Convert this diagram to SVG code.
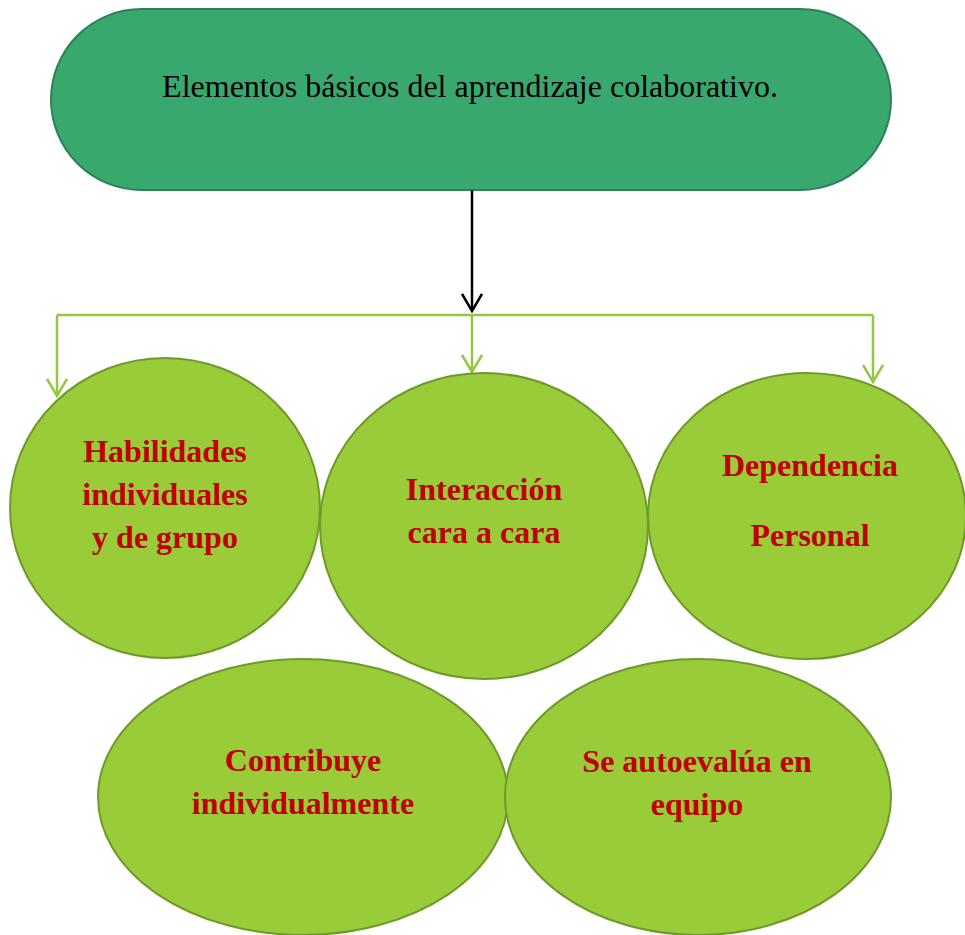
<svg xmlns="http://www.w3.org/2000/svg" width="965" height="935" viewBox="0 0 965 935">
<defs>
<style>
.title{font-family:"Liberation Serif","Times New Roman",serif;font-size:32px;fill:#000;text-anchor:middle}
.lbl{font-family:"Liberation Serif","Times New Roman",serif;font-size:32px;font-weight:bold;fill:#C00000;text-anchor:middle}
.node{fill:#9ACB38;stroke:#6D9A2A;stroke-width:2}
.gline{fill:none;stroke:#92C83E;stroke-width:2.5}
</style>
<marker id="ag" markerWidth="20" markerHeight="22" viewBox="0 0 20 22" refX="18" refY="11" orient="auto" markerUnits="userSpaceOnUse">
<path d="M1,1 L18,11 L1,21" fill="none" stroke="#92C83E" stroke-width="2.5"/>
</marker>
<marker id="ab" markerWidth="20" markerHeight="22" viewBox="0 0 20 22" refX="18" refY="11" orient="auto" markerUnits="userSpaceOnUse">
<path d="M1,1 L18,11 L1,21" fill="none" stroke="#000" stroke-width="2.5"/>
</marker>
</defs>
<rect width="965" height="935" fill="#fff"/>
<g id="top">
<rect x="51" y="9" width="840" height="181" rx="90.5" ry="90.5" fill="#38A86F" stroke="#2E8157" stroke-width="2"/>
<text class="title" x="470" y="97">Elementos básicos del aprendizaje colaborativo.</text>
</g>
<g id="connectors">
<line x1="472" y1="190" x2="472" y2="311" stroke="#000" stroke-width="2.5" marker-end="url(#ab)"/>
<line class="gline" x1="57" y1="315" x2="873" y2="315"/>
<line class="gline" x1="57" y1="315" x2="57" y2="396" marker-end="url(#ag)"/>
<line class="gline" x1="472" y1="315" x2="472" y2="372" marker-end="url(#ag)"/>
<line class="gline" x1="873" y1="315" x2="873" y2="382" marker-end="url(#ag)"/>
</g>
<g id="n1">
<ellipse class="node" cx="165" cy="508" rx="155" ry="150"/>
<text class="lbl" x="165" y="462">Habilidades</text>
<text class="lbl" x="165" y="505">individuales</text>
<text class="lbl" x="165" y="548">y de grupo</text>
</g>
<g id="n2">
<ellipse class="node" cx="484" cy="526" rx="164" ry="153"/>
<text class="lbl" x="484" y="500">Interacción</text>
<text class="lbl" x="484" y="543">cara a cara</text>
</g>
<g id="n3">
<ellipse class="node" cx="807" cy="516" rx="159" ry="143"/>
<text class="lbl" x="810" y="476">Dependencia</text>
<text class="lbl" x="810" y="546">Personal</text>
</g>
<g id="n4">
<ellipse class="node" cx="303" cy="797" rx="205" ry="138"/>
<text class="lbl" x="303" y="771">Contribuye</text>
<text class="lbl" x="303" y="814">individualmente</text>
</g>
<g id="n5">
<ellipse class="node" cx="698" cy="797" rx="193" ry="138"/>
<text class="lbl" x="697" y="772">Se autoevalúa en</text>
<text class="lbl" x="697" y="815">equipo</text>
</g>
</svg>
